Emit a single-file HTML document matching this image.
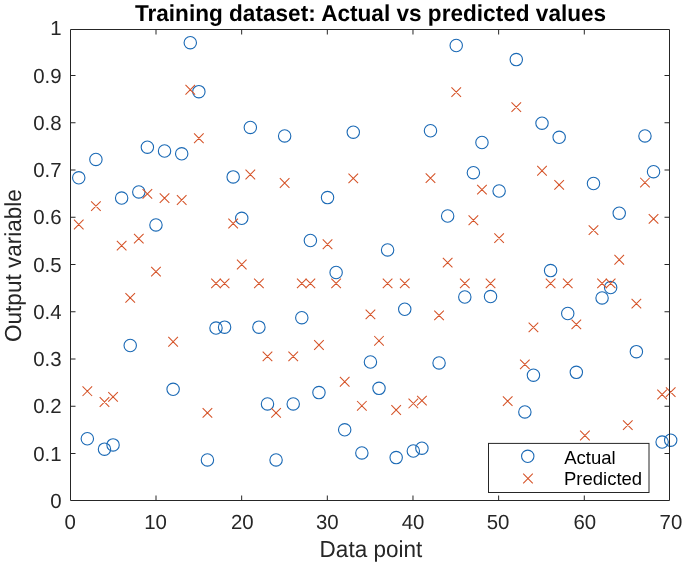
<!DOCTYPE html><html><head><meta charset="utf-8"><style>html,body{margin:0;padding:0;background:#fff;}svg{display:block;will-change:transform;}text{font-family:"Liberation Sans",sans-serif;}</style></head><body>
<svg width="685" height="566" viewBox="0 0 685 566">
<rect width="685" height="566" fill="#fff"/>
<g fill="none" stroke="#1A69B5" stroke-width="1.10"><circle cx="78.75" cy="177.84" r="6.20"/><circle cx="87.33" cy="438.77" r="6.20"/><circle cx="95.91" cy="159.47" r="6.20"/><circle cx="104.49" cy="449.13" r="6.20"/><circle cx="113.06" cy="444.89" r="6.20"/><circle cx="121.64" cy="198.09" r="6.20"/><circle cx="130.22" cy="345.51" r="6.20"/><circle cx="138.80" cy="191.97" r="6.20"/><circle cx="147.38" cy="147.22" r="6.20"/><circle cx="155.96" cy="224.94" r="6.20"/><circle cx="164.54" cy="150.99" r="6.20"/><circle cx="173.12" cy="389.31" r="6.20"/><circle cx="181.70" cy="153.81" r="6.20"/><circle cx="190.28" cy="42.66" r="6.20"/><circle cx="198.86" cy="91.64" r="6.20"/><circle cx="207.43" cy="459.96" r="6.20"/><circle cx="216.01" cy="328.09" r="6.20"/><circle cx="224.59" cy="327.14" r="6.20"/><circle cx="233.17" cy="176.89" r="6.20"/><circle cx="241.75" cy="218.34" r="6.20"/><circle cx="250.33" cy="127.44" r="6.20"/><circle cx="258.91" cy="327.14" r="6.20"/><circle cx="267.49" cy="403.92" r="6.20"/><circle cx="276.07" cy="459.96" r="6.20"/><circle cx="284.65" cy="135.92" r="6.20"/><circle cx="293.22" cy="403.92" r="6.20"/><circle cx="301.80" cy="317.72" r="6.20"/><circle cx="310.38" cy="240.48" r="6.20"/><circle cx="318.96" cy="392.61" r="6.20"/><circle cx="327.54" cy="197.62" r="6.20"/><circle cx="336.12" cy="272.51" r="6.20"/><circle cx="344.70" cy="429.82" r="6.20"/><circle cx="353.28" cy="132.15" r="6.20"/><circle cx="361.86" cy="452.90" r="6.20"/><circle cx="370.44" cy="362.00" r="6.20"/><circle cx="379.01" cy="388.37" r="6.20"/><circle cx="387.59" cy="249.90" r="6.20"/><circle cx="396.17" cy="457.61" r="6.20"/><circle cx="404.75" cy="309.25" r="6.20"/><circle cx="413.33" cy="451.02" r="6.20"/><circle cx="421.91" cy="448.19" r="6.20"/><circle cx="430.49" cy="130.74" r="6.20"/><circle cx="439.07" cy="362.94" r="6.20"/><circle cx="447.65" cy="215.99" r="6.20"/><circle cx="456.23" cy="45.49" r="6.20"/><circle cx="464.80" cy="297.00" r="6.20"/><circle cx="473.38" cy="172.66" r="6.20"/><circle cx="481.96" cy="142.51" r="6.20"/><circle cx="490.54" cy="296.53" r="6.20"/><circle cx="499.12" cy="191.02" r="6.20"/><circle cx="516.28" cy="59.61" r="6.20"/><circle cx="524.86" cy="411.92" r="6.20"/><circle cx="533.44" cy="375.19" r="6.20"/><circle cx="542.01" cy="123.20" r="6.20"/><circle cx="550.59" cy="270.62" r="6.20"/><circle cx="559.17" cy="137.33" r="6.20"/><circle cx="567.75" cy="313.48" r="6.20"/><circle cx="576.33" cy="372.36" r="6.20"/><circle cx="593.49" cy="183.49" r="6.20"/><circle cx="602.07" cy="297.94" r="6.20"/><circle cx="610.65" cy="287.58" r="6.20"/><circle cx="619.23" cy="213.16" r="6.20"/><circle cx="636.38" cy="351.63" r="6.20"/><circle cx="644.96" cy="135.92" r="6.20"/><circle cx="653.54" cy="171.71" r="6.20"/><circle cx="662.12" cy="442.07" r="6.20"/><circle cx="670.70" cy="440.18" r="6.20"/></g>
<path fill="none" stroke="#D55328" stroke-width="1.05" d="M73.95 219.67L83.55 229.27M73.95 229.27L83.55 219.67M82.53 386.40L92.13 396.00M82.53 396.00L92.13 386.40M91.11 201.30L100.71 210.90M91.11 210.90L100.71 201.30M99.69 397.23L109.29 406.83M99.69 406.83L109.29 397.23M108.27 392.05L117.86 401.65M108.27 401.65L117.86 392.05M116.84 240.86L126.44 250.46M116.84 250.46L126.44 240.86M125.42 293.14L135.02 302.74M125.42 302.74L135.02 293.14M134.00 233.79L143.60 243.39M134.00 243.39L143.60 233.79M142.58 189.05L152.18 198.65M142.58 198.65L152.18 189.05M151.16 266.76L160.76 276.37M151.16 276.37L160.76 266.76M159.74 193.29L169.34 202.89M159.74 202.89L169.34 193.29M168.32 336.94L177.92 346.54M168.32 346.54L177.92 336.94M176.90 195.17L186.50 204.77M176.90 204.77L186.50 195.17M185.48 84.96L195.08 94.56M185.48 94.56L195.08 84.96M194.06 133.47L203.66 143.07M194.06 143.07L203.66 133.47M202.63 408.06L212.23 417.67M202.63 417.67L212.23 408.06M211.21 278.63L220.81 288.23M211.21 288.23L220.81 278.63M219.79 278.63L229.39 288.23M219.79 288.23L229.39 278.63M228.37 218.72L237.97 228.32M228.37 228.32L237.97 218.72M236.95 259.70L246.55 269.30M236.95 269.30L246.55 259.70M245.53 169.74L255.13 179.34M245.53 179.34L255.13 169.74M254.11 278.63L263.71 288.23M254.11 288.23L263.71 278.63M262.69 351.55L272.29 361.15M262.69 361.15L272.29 351.55M271.27 408.06L280.87 417.67M271.27 417.67L280.87 408.06M279.85 178.22L289.45 187.82M279.85 187.82L289.45 178.22M288.42 351.55L298.02 361.15M288.42 361.15L298.02 351.55M297.00 278.63L306.60 288.23M297.00 288.23L306.60 278.63M305.58 278.63L315.18 288.23M305.58 288.23L315.18 278.63M314.16 340.24L323.76 349.84M314.16 349.84L323.76 340.24M322.74 239.45L332.34 249.05M322.74 249.05L332.34 239.45M331.32 278.63L340.92 288.23M331.32 288.23L340.92 278.63M339.90 376.98L349.50 386.58M339.90 386.58L349.50 376.98M348.48 173.51L358.08 183.11M348.48 183.11L358.08 173.51M357.06 401.00L366.66 410.60M357.06 410.60L366.66 401.00M365.64 309.63L375.24 319.23M365.64 319.23L375.24 309.63M374.21 336.00L383.81 345.60M374.21 345.60L383.81 336.00M382.79 278.63L392.39 288.23M382.79 288.23L392.39 278.63M391.37 405.24L400.97 414.84M391.37 414.84L400.97 405.24M399.95 278.63L409.55 288.23M399.95 288.23L409.55 278.63M408.53 398.64L418.13 408.25M408.53 408.25L418.13 398.64M417.11 395.82L426.71 405.42M417.11 405.42L426.71 395.82M425.69 173.27L435.29 182.87M425.69 182.87L435.29 173.27M434.27 310.57L443.87 320.17M434.27 320.17L443.87 310.57M442.85 257.82L452.45 267.42M442.85 267.42L452.45 257.82M451.43 87.31L461.03 96.91M451.43 96.91L461.03 87.31M460.00 278.63L469.60 288.23M460.00 288.23L469.60 278.63M468.58 215.43L478.18 225.03M468.58 225.03L478.18 215.43M477.16 184.81L486.76 194.41M477.16 194.41L486.76 184.81M485.74 278.63L495.34 288.23M485.74 288.23L495.34 278.63M494.32 233.32L503.92 242.92M494.32 242.92L503.92 233.32M502.90 396.29L512.50 405.89M502.90 405.89L512.50 396.29M511.48 102.39L521.08 111.99M511.48 111.99L521.08 102.39M520.06 359.55L529.66 369.15M520.06 369.15L529.66 359.55M528.64 322.58L538.24 332.18M528.64 332.18L538.24 322.58M537.22 165.97L546.81 175.57M537.22 175.57L546.81 165.97M545.79 278.63L555.39 288.23M545.79 288.23L555.39 278.63M554.37 180.10L563.97 189.70M554.37 189.70L563.97 180.10M562.95 278.63L572.55 288.23M562.95 288.23L572.55 278.63M571.53 319.52L581.13 329.12M571.53 329.12L581.13 319.52M580.11 430.67L589.71 440.27M580.11 440.27L589.71 430.67M588.69 225.32L598.29 234.92M588.69 234.92L598.29 225.32M597.27 278.63L606.87 288.23M597.27 288.23L606.87 278.63M605.85 278.63L615.45 288.23M605.85 288.23L615.45 278.63M614.43 254.99L624.03 264.59M614.43 264.59L624.03 254.99M623.00 420.31L632.60 429.91M623.00 429.91L632.60 420.31M631.58 298.79L641.18 308.39M631.58 308.39L641.18 298.79M640.16 177.75L649.76 187.35M640.16 187.35L649.76 177.75M648.74 214.01L658.34 223.61M648.74 223.61L658.34 214.01M657.32 389.70L666.92 399.30M657.32 399.30L666.92 389.70M665.90 387.34L675.50 396.94M665.90 396.94L675.50 387.34"/>
<path fill="none" stroke="#262626" stroke-width="1" d="M70.5 29.5H669.5V500.5H70.5ZM156.00 500.50v-5M156.00 29.50v5M241.66 500.50v-5M241.66 29.50v5M327.32 500.50v-5M327.32 29.50v5M412.98 500.50v-5M412.98 29.50v5M498.64 500.50v-5M498.64 29.50v5M584.30 500.50v-5M584.30 29.50v5M70.50 453.50h5M669.50 453.50h-5M70.50 406.25h5M669.50 406.25h-5M70.50 359.00h5M669.50 359.00h-5M70.50 311.75h5M669.50 311.75h-5M70.50 264.50h5M669.50 264.50h-5M70.50 217.25h5M669.50 217.25h-5M70.50 170.00h5M669.50 170.00h-5M70.50 122.75h5M669.50 122.75h-5M70.50 75.50h5M669.50 75.50h-5"/>
<rect x="488.5" y="443.4" width="160.5" height="49.1" fill="#fff" stroke="#262626" stroke-width="1"/>
<circle cx="527.75" cy="456.35" r="6.20" fill="none" stroke="#1A69B5" stroke-width="1.10"/>
<path fill="none" stroke="#D55328" stroke-width="1.05" d="M523.20 473.70L532.80 483.30M523.20 483.30L532.80 473.70"/>
<text x="564.2" y="463.6" font-size="18.5" fill="#000">Actual</text>
<text x="564.0" y="485.3" font-size="18.5" fill="#000">Predicted</text>
<text transform="translate(70.12 528.5) scale(1 1.000)" text-rendering="geometricPrecision" font-size="20.4" fill="#262626" text-anchor="middle">0</text>
<text transform="translate(155.56 528.5) scale(1 1.000)" text-rendering="geometricPrecision" font-size="20.4" fill="#262626" text-anchor="middle">10</text>
<text transform="translate(242.30 528.5) scale(1 1.000)" text-rendering="geometricPrecision" font-size="20.4" fill="#262626" text-anchor="middle">20</text>
<text transform="translate(327.24 528.5) scale(1 1.000)" text-rendering="geometricPrecision" font-size="20.4" fill="#262626" text-anchor="middle">30</text>
<text transform="translate(412.98 528.5) scale(1 1.000)" text-rendering="geometricPrecision" font-size="20.4" fill="#262626" text-anchor="middle">40</text>
<text transform="translate(498.02 528.5) scale(1 1.000)" text-rendering="geometricPrecision" font-size="20.4" fill="#262626" text-anchor="middle">50</text>
<text transform="translate(584.81 528.5) scale(1 1.000)" text-rendering="geometricPrecision" font-size="20.4" fill="#262626" text-anchor="middle">60</text>
<text transform="translate(670.90 528.5) scale(1 1.000)" text-rendering="geometricPrecision" font-size="20.4" fill="#262626" text-anchor="middle">70</text>
<text transform="translate(61.5 507.75) scale(1 1.000)" text-rendering="geometricPrecision" font-size="20.4" fill="#262626" text-anchor="end">0</text>
<text transform="translate(61.5 460.50) scale(1 1.000)" text-rendering="geometricPrecision" font-size="20.4" fill="#262626" text-anchor="end">0.1</text>
<text transform="translate(61.5 413.25) scale(1 1.000)" text-rendering="geometricPrecision" font-size="20.4" fill="#262626" text-anchor="end">0.2</text>
<text transform="translate(61.5 366.00) scale(1 1.000)" text-rendering="geometricPrecision" font-size="20.4" fill="#262626" text-anchor="end">0.3</text>
<text transform="translate(61.5 318.75) scale(1 1.000)" text-rendering="geometricPrecision" font-size="20.4" fill="#262626" text-anchor="end">0.4</text>
<text transform="translate(61.5 271.50) scale(1 1.000)" text-rendering="geometricPrecision" font-size="20.4" fill="#262626" text-anchor="end">0.5</text>
<text transform="translate(61.5 224.25) scale(1 1.000)" text-rendering="geometricPrecision" font-size="20.4" fill="#262626" text-anchor="end">0.6</text>
<text transform="translate(61.5 177.00) scale(1 1.000)" text-rendering="geometricPrecision" font-size="20.4" fill="#262626" text-anchor="end">0.7</text>
<text transform="translate(61.5 129.75) scale(1 1.000)" text-rendering="geometricPrecision" font-size="20.4" fill="#262626" text-anchor="end">0.8</text>
<text transform="translate(61.5 82.50) scale(1 1.000)" text-rendering="geometricPrecision" font-size="20.4" fill="#262626" text-anchor="end">0.9</text>
<text transform="translate(61.5 35.25) scale(1 1.000)" text-rendering="geometricPrecision" font-size="20.4" fill="#262626" text-anchor="end">1</text>
<text transform="translate(370.9 556.7) scale(1 1.030)" text-rendering="geometricPrecision" font-size="22.5" fill="#262626" text-anchor="middle">Data point</text>
<text transform="translate(21.0 265.6) rotate(-90) scale(1 1.030)" text-rendering="geometricPrecision" font-size="22.5" fill="#262626" text-anchor="middle">Output variable</text>
<text transform="translate(370.55 20.9) scale(1 1.020)" text-rendering="geometricPrecision" font-size="22.6" font-weight="bold" fill="#000" text-anchor="middle">Training dataset: Actual vs predicted values</text>
</svg></body></html>
